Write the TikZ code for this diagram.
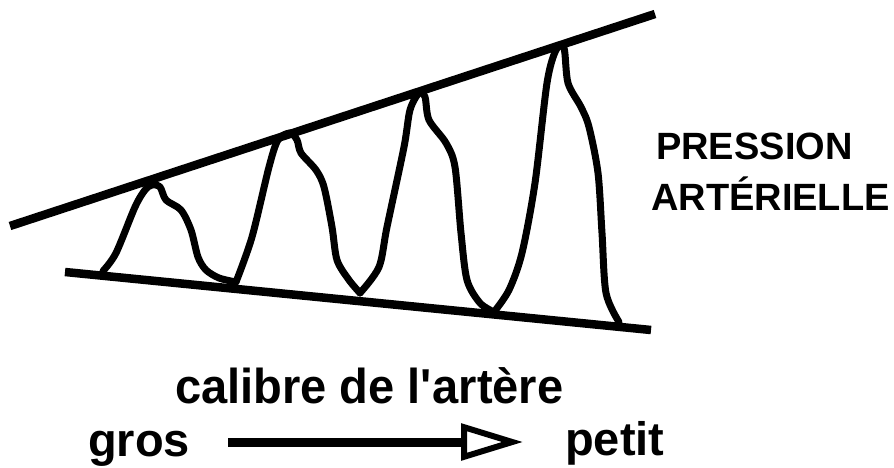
\documentclass[tikz,border=0pt]{standalone}
\usepackage{fontspec}
\setmainfont{Liberation Sans}
\newfontfamily\condfont[FakeStretch=0.96]{Liberation Sans}
\usetikzlibrary{arrows.meta}
\tikzset{
	lbl/.style={inner sep=0pt, anchor=base west, font=\bfseries},
	wave/.style={line width=7pt, line join=round, line cap=round},
	edge/.style={line width=8.5pt}
}

\begin{document}
\begin{tikzpicture}[x=1pt, y=-1pt]

	\useasboundingbox (0,0) rectangle (894,468);

	% Envelope lines
	\draw[edge] (10,226) -- (655,14);
	\draw[edge] (65,272) -- (651,330);

	% Pulse waves, growing to the right
	\draw[wave] plot[smooth, tension=0.5] coordinates {(103,271) (116,253) (135,207) (145,190) (152,185) (160,187) (166,200) (181,210) (191,230) (198,257) (206,270) (219,278) (236,282)};
	\draw[wave] plot[smooth, tension=0.5] coordinates {(236,282) (252,237) (269,167) (278,140) (290,133) (297,140) (301,153) (316,170) (324,187) (332,227) (337,260) (349,280) (360,293)};
	\draw[wave] plot[smooth, tension=0.5] coordinates {(360,293) (379,267) (387,227) (404,147) (410,110) (419,93) (425,97) (429,120) (446,143) (455,167) (461,233) (467,280) (480,303) (494,312)};
	\draw[wave] plot[smooth, tension=0.5] coordinates {(494,312) (509,290) (522,253) (535,183) (547,83) (556,50) (564,48) (568,83) (581,107) (589,127) (598,173) (602,233) (606,293) (619,322)};

	% Labels
	\node[lbl, font=\bfseries\fontsize{38}{40}\selectfont] (pres) at (656,160) {PRESSION};
	\node[lbl, font=\bfseries\fontsize{38}{40}\selectfont] (art) at (651,210) {ARTÉRIELLE};
	\node[lbl, font=\condfont\bfseries\fontsize{49}{52}\selectfont] (cal) at (175,403) {calibre de l\textquotesingle artère};
	\node[lbl, font=\bfseries\fontsize{47}{50}\selectfont] (gros) at (88,456) {gros};
	\node[lbl, font=\bfseries\fontsize{47}{50}\selectfont] (petit) at (565,455) {petit};

	% Arrow gros -> petit
	\coordinate (a0) at (228,442);
	\coordinate (a1) at (523,442);
	\draw[line width=9pt, -{Triangle[open, length=62pt, width=36pt, line width=6pt]}] (a0) -- (a1);

\end{tikzpicture}
\end{document}
